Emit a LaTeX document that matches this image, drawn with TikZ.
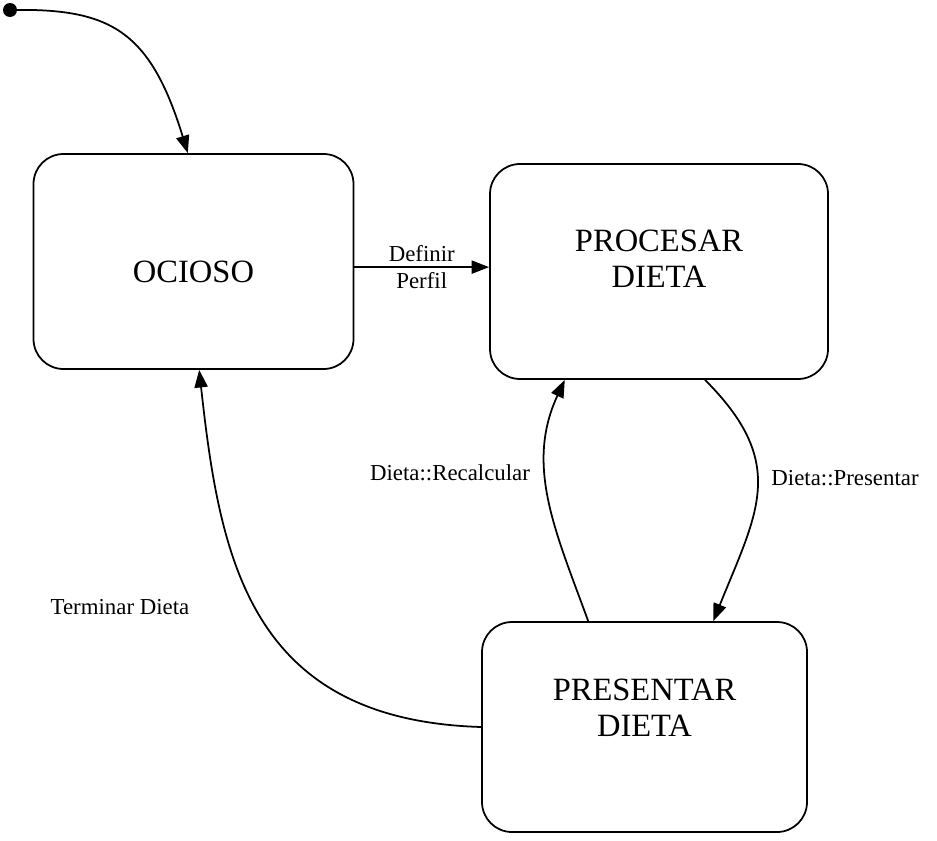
\documentclass[tikz,border=0pt]{standalone}
\usepackage{fontspec}
\setmainfont{Liberation Serif}
\usepackage{tikz}
\usetikzlibrary{arrows,arrows.meta,shapes,calc,positioning}

\tikzset{
    estado/.style={draw, line width=1pt, rounded corners=0.6cm, align=center,
        minimum width=6.4cm, minimum height=4.3cm, font=\fontsize{18.5}{20.5}\selectfont},
    etiqueta/.style={font=\fontsize{13}{15}\selectfont},
    trans/.style={line width=1pt, -{Triangle[length=10pt,width=7.5pt]}}
}

\begin{document}
\begin{tikzpicture}

    \useasboundingbox (0,0) rectangle (18.74,-16.8);

    % draw states
    \node[estado, text height=24pt] (ocioso) at (3.87,-5.23) {OCIOSO};
    \node[estado, minimum width=6.76cm, text depth=14pt] (procesar) at (13.18,-5.43) {PROCESAR\\DIETA};
    \node[estado, minimum width=6.5cm, minimum height=4.2cm, text depth=22pt] (presentar) at (12.89,-14.54) {PRESENTAR\\DIETA};

    % draw initial state
    \fill (0.2,-0.2) circle (0.14) coordinate (inicio);
    \draw[trans] (inicio) .. controls (2.2,-0.16) and (3.0,-0.6) .. (ocioso.93);

    % draw transitions
    \draw[trans] (ocioso.-2) -- (ocioso.-2 -| procesar.west)
        node[etiqueta, midway, above=-1pt] (definir) {Definir}
        node[etiqueta, midway, below=-1pt] (perfil) {Perfil};
    \draw[trans] (presentar.118) to[out=110, in=-115] (procesar.229);
    \draw[trans] (procesar.-67) to[out=-45, in=68, looseness=1.25] (presentar.57);
    \draw[trans] (presentar.west) .. controls (5.0,-14.4) and (4.4,-11.2) .. (ocioso.273);

    % draw labels
    \node[etiqueta] (recalcular) at (9.0,-9.46) {Dieta::Recalcular};
    \node[etiqueta] (presentarlbl) at (16.9,-9.56) {Dieta::Presentar};
    \node[etiqueta] (terminar) at (2.4,-12.14) {Terminar Dieta};

\end{tikzpicture}
\end{document}
